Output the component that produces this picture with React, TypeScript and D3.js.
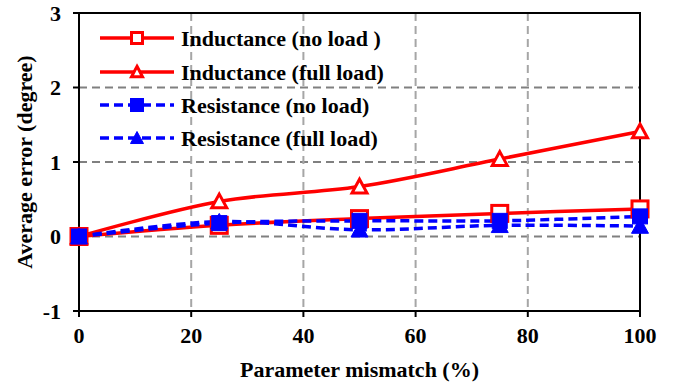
import React from 'react';
import * as d3 from 'd3';

const mismatch = [0, 25, 50, 75, 100];
const inductanceNoLoad = [0, 0.15, 0.24, 0.31, 0.37];
const inductanceFullLoad = [0, 0.47, 0.67, 1.04, 1.41];
const resistanceNoLoad = [0, 0.18, 0.21, 0.21, 0.27];
const resistanceFullLoad = [0, 0.2, 0.09, 0.15, 0.14];

const xTicks = [0, 20, 40, 60, 80, 100];
const yTicks = [-1, 0, 1, 2, 3];

const seriesNames = [
  'Inductance (no load )',
  'Inductance (full load)',
  'Resistance (no load)',
  'Resistance (full load)',
];

const W = 673, H = 387;
const margin = { top: 13, right: 33, bottom: 76, left: 79 };
const FONT = 'Liberation Serif';

const series = [
  { name: seriesNames[0], values: inductanceNoLoad, color: '#ff0000', dashed: false, marker: 'square', filled: false },
  { name: seriesNames[1], values: inductanceFullLoad, color: '#ff0000', dashed: false, marker: 'triangle', filled: false },
  { name: seriesNames[2], values: resistanceNoLoad, color: '#0000ff', dashed: true, marker: 'square', filled: true },
  { name: seriesNames[3], values: resistanceFullLoad, color: '#0000ff', dashed: true, marker: 'triangle', filled: true },
];

const Marker = ({ type, cx, cy, size, color, filled }) => {
  const fill = filled ? color : '#fff';
  const sw = filled ? 1 : 3;
  if (type === 'square') {
    return <rect x={cx - size / 2} y={cy - size / 2} width={size} height={size} fill={fill} stroke={color} strokeWidth={sw} />;
  }
  const h = size * 0.85;
  const pts = `${cx},${cy - h / 2 - 1} ${cx + size / 2},${cy + h / 2} ${cx - size / 2},${cy + h / 2}`;
  return <polygon points={pts} fill={fill} stroke={color} strokeWidth={sw} strokeLinejoin="miter" />;
};

export default function App() {
  const innerW = W - margin.left - margin.right;
  const innerH = H - margin.top - margin.bottom;
  const x = d3.scaleLinear().domain([0, 100]).range([margin.left, margin.left + innerW]);
  const y = d3.scaleLinear().domain([-1, 3]).range([margin.top + innerH, margin.top]);

  const line = d3.line<number>()
    .x((_, i) => x(mismatch[i]))
    .y(d => y(d))
    .curve(d3.curveCatmullRom.alpha(0.5));

  const legendRows = [38, 72, 105, 138];
  const markerSize = (s) => s.filled ? (s.marker === 'square' ? 15 : 17) : (s.marker === 'square' ? 16 : 15);

  return (
    <svg width={W} height={H} style={{ position: 'absolute', left: 0, top: 0, background: '#fff' }}>
      {/* grid */}
      {yTicks.filter(t => t !== -1).map(t => (
        <line key={'gy' + t} x1={x(0)} x2={x(100)} y1={y(t)} y2={y(t)} stroke="#808080" strokeWidth={2} strokeDasharray="8,5" />
      ))}
      {xTicks.filter(t => t !== 0 && t !== 100).map(t => (
        <line key={'gx' + t} x1={x(t)} x2={x(t)} y1={y(3)} y2={y(-1)} stroke="#a6a6a6" strokeWidth={2} strokeDasharray="8,5" />
      ))}
      {/* frame */}
      <rect x={x(0)} y={y(3)} width={innerW} height={innerH} fill="none" stroke="#000" strokeWidth={2} />
      {/* ticks */}
      {yTicks.map(t => (
        <g key={'ty' + t}>
          <line x1={x(0) - 6} x2={x(0)} y1={y(t)} y2={y(t)} stroke="#000" strokeWidth={2} />
          <text x={x(0) - 18} y={y(t)} dy="0.35em" textAnchor="end" fontSize={22} fontFamily={FONT} fontWeight="bold">{t}</text>
        </g>
      ))}
      {xTicks.map(t => (
        <g key={'tx' + t}>
          <line x1={x(t)} x2={x(t)} y1={y(-1)} y2={y(-1) + 6} stroke="#000" strokeWidth={2} />
          <text x={x(t)} y={343} textAnchor="middle" fontSize={22} fontFamily={FONT} fontWeight="bold">{t}</text>
        </g>
      ))}
      {/* axis titles */}
      <text x={x(50)} y={377} textAnchor="middle" fontSize={22} fontFamily={FONT} fontWeight="bold">Parameter mismatch (%)</text>
      <text transform={`translate(32,${y(1)}) rotate(-90)`} textAnchor="middle" fontSize={22} fontFamily={FONT} fontWeight="bold">Average error (degree)</text>
      {/* series */}
      {series.map((s, i) => (
        <path key={'l' + i} d={line(s.values) || ''} fill="none" stroke={s.color} strokeWidth={3.5}
          strokeDasharray={s.dashed ? '9,5' : undefined} />
      ))}
      {series.map((s, i) => s.values.map((v, j) => (
        <Marker key={'m' + i + '-' + j} type={s.marker} cx={x(mismatch[j])} cy={y(v)}
          size={markerSize(s)} color={s.color} filled={s.filled} />
      )))}
      {/* legend */}
      {series.map((s, i) => (
        <g key={'lg' + i}>
          <line x1={100} x2={174} y1={legendRows[i]} y2={legendRows[i]} stroke={s.color} strokeWidth={3.5}
            strokeDasharray={s.dashed ? '9,5' : undefined} />
          <Marker type={s.marker} cx={137} cy={legendRows[i]} size={s.filled ? 13 : 11} color={s.color} filled={s.filled} />
          <text x={181} y={legendRows[i]} dy="0.35em" fontSize={22} fontFamily={FONT} fontWeight="bold">{s.name}</text>
        </g>
      ))}
    </svg>
  );
}
